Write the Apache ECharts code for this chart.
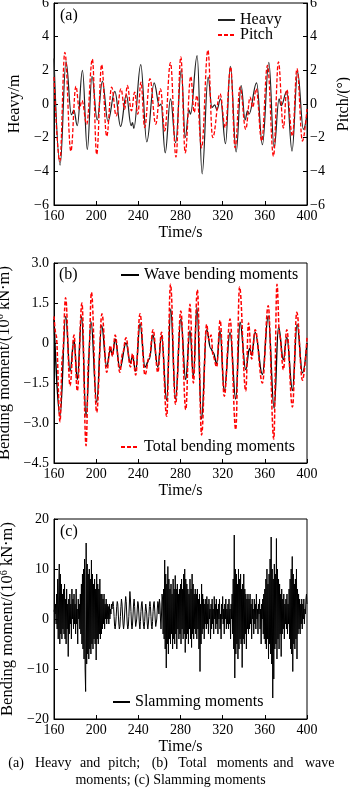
<!DOCTYPE html>
<html><head><meta charset="utf-8">
<script src="https://cdn.jsdelivr.net/npm/echarts@6/dist/echarts.min.js"></script>
<style>html,body{margin:0;padding:0;background:#fff}#c{width:350px;height:792px}</style>
</head><body><div id="c"></div>
<script>
// ---------- DATA ----------
const timeTicks = [160, 200, 240, 280, 320, 360, 400];

// (a) heave [time s, metres] — extrema
const heave = [
[160,2.7],[165.8,-3.63],[171.4,2.52],[176.5,-0.63],[178.8,-0.36],[182.1,-1.29],[187,2.0],[191.6,-2.7],
[196,1.64],[201,-0.95],[205.9,1.35],[211.2,-1.03],[217.7,0.75],[223.2,-1.33],[228.6,0.55],[233.2,-1.29],
[234.5,-1.1],[235.7,-1.45],[242.3,2.34],[248,-2.25],[255,1.25],[260,-0.1],[261.5,0.0],[265.5,-2.9],
[270.5,0.3],[275.4,-2.3],[280.8,2.05],[284.5,-2.0],[288,-0.35],[289.5,-0.6],[295.8,2.87],[300.5,-4.15],
[306.2,1.6],[309.8,-0.2],[312.5,-0.05],[314.5,-0.35],[318,0.3],[322.7,-2.36],[327.3,2.24],[332.8,-2.85],
[337.5,1.1],[341.3,-0.95],[343.5,-0.4],[345,-0.6],[352.2,1.25],[357.7,-2.42],[363.8,2.48],[368.8,-2.6],
[373.5,0.3],[375.5,-0.1],[380.8,0.75],[385.8,-2.8],[391.1,1.9],[396.6,-1.5],[400,-0.6]
];
// (a) pitch [time s, degrees]
const pitch = [
[160,1.6],[165.5,-3.4],[170.3,3.07],[176,-2.8],[180.8,1.05],[184,-0.3],[186.5,0.2],[191,-1.2],
[196.4,2.67],[200.5,-3.0],[205.2,2.34],[210,-1.92],[214.7,1.0],[219,-0.7],[223.5,0.9],[227,-0.3],
[229.5,1.1],[233.5,-0.4],[236.5,0.7],[239.5,-0.6],[242.5,1.3],[246,-1.4],[251,1.5],[256.5,-1.2],
[261,0.9],[265,-1.6],[270.5,2.45],[275.7,-3.15],[280.3,2.8],[284.5,-2.9],[289.7,1.64],[293,-0.5],
[295.5,0.5],[300,-2.6],[306,3.2],[310.5,-2.0],[317.5,0.6],[322.5,-1.4],[327.6,2.2],[331.8,-2.6],
[336.5,1.0],[341.9,-1.5],[346,0.4],[348.5,-0.2],[351.8,0.9],[357,-2.2],[362.5,2.3],[368.2,-3.1],
[372.9,2.5],[377.6,-1.43],[380.8,0.85],[386.2,-1.9],[390.5,2.1],[395.7,-2.2],[400,-0.3]
];
// (b) wave bending moments [time s, 10^6 kN·m]
const waveBM = [
[160,0.9],[165.7,-2.75],[171.1,1.0],[175.2,-1.06],[179,0.1],[182.1,-1.37],[186.2,1.0],[190.4,-2.77],
[195.1,0.8],[200.5,-2.22],[205.2,0.65],[210,-0.88],[213.5,-0.25],[215.5,-0.45],[218,0.15],[222.5,-0.95],
[228.3,0.0],[232.5,-0.75],[234.5,-0.5],[237.5,-1.05],[241.6,0.72],[246.3,-0.9],[250.5,-0.6],[253.8,0.3],
[258.5,-0.9],[262,0.26],[266.9,-2.15],[270.7,1.28],[275.3,-2.1],[280.3,0.9],[284.9,-1.37],[289,0.46],
[292.2,-1.24],[295.6,1.32],[300,-2.85],[304.8,0.5],[308.6,-0.2],[311,-0.35],[314.3,-0.76],[317.5,0.46],
[321.5,-1.8],[327,0.4],[332.4,-2.1],[336.5,0.78],[341.9,-1.0],[345.5,-0.2],[347.5,-0.45],[350.8,0.4],
[357.7,-1.18],[363.2,1.01],[368.8,-2.45],[373,0.6],[377.6,-0.63],[380.8,0.22],[386.2,-1.78],[390.6,0.7],
[395.7,-1.12],[400,0.0]
];
// (b) total bending moments [time s, 10^6 kN·m]
const totalBM = [
[160,1.0],[162,0.3],[165.7,-2.95],[168,-0.5],[171,1.7],[175.2,-1.6],[179,0.3],[182.1,-1.8],
[186.5,1.5],[190.4,-3.85],[193,-0.5],[195.5,1.9],[200.5,-2.6],[205.5,1.1],[210,-1.1],[213.5,-0.1],
[215.5,-0.5],[218,0.3],[222.5,-1.1],[225,-0.4],[228.3,0.2],[232.5,-0.9],[234.5,-0.4],[237.5,-1.2],
[241.6,1.1],[246.3,-1.2],[250.5,-0.5],[254,0.5],[258.5,-1.1],[262,0.4],[266.9,-2.75],[270.5,2.2],
[275.3,-2.3],[280.3,1.2],[285,-2.5],[289,1.45],[292.2,-1.5],[296,2.0],[300,-3.45],[304.8,0.7],
[307,0.1],[309,0.3],[311,-0.5],[314.3,-0.9],[317.6,0.85],[321.5,-2.0],[327,0.9],[332.4,-3.25],
[336,2.1],[341.9,-1.8],[344.5,0.75],[347.5,-0.6],[350.8,0.5],[357.7,-1.5],[363.2,1.4],[368.5,-3.6],
[371.5,2.2],[374,0.3],[377.6,-1.0],[380.8,0.5],[386.2,-2.4],[390.3,1.15],[395.7,-1.4],[400,0.2]
];
// (c) slamming moments, sampled every 0.5 s from 160 s [10^6 kN·m]
const slamStart = 160, slamStep = 0.5;
const slamming = [
1.5,2,1,3,-1,5,-2,8,-4,6,
11,-5,9,-3,7,-4,5,-2,6,-3,
7,-4,4,-5,6,-2,3,-7.5,4,-3,
5,-1,3,-4,6,0,4,-2,5,-1,
3,-3,6,-1,2,-5,4,0,3,-2,
5,-3,7,-5,9,-6,10,-8,12,-10,
-14.5,15.2,-9,11,-7,9,-8,10,-6,8,
-7,11.8,-5,9,-6,7,-4,8,-5,6,
-8.2,9,-4,7,-5,6,-3,8,-4,5,
-3,5,-2,4,-1,5,-2,3,0,4,
-1,3,0,2.5,-1,3,0,2,1,3,
2,3,3.5,2.5,0.5,-1.5,-2,-1,0.5,2.5,
3.5,3,1,-1,-2,-1.5,0.5,2.5,4,3,
1,-1,-2,-1,1,3,4.5,3.5,1,-1,
-2,-1.5,0.5,3,5.5,4,1.5,-1,-2,-1,
1,3,4,2.5,0,-1.5,-1.5,0,2,3.5,
3,1,-1,-2,-0.5,1.5,3,3.5,2,0,
-1.5,-2,-0.5,1.5,3,3,1,-1,-2,-1,
0.5,2.5,3.5,2.5,0.5,-1.5,-2,-0.5,1.5,3,
3.5,2,0,-1.5,-1.5,0,2,3.5,3,1,
4,3,0,-2,1,5,4,-3,6,-4,
11.8,-6,9,-9.8,7,-5,10.5,-7,8,-4,
6,-5,7,-3,5,-6,8,-4,6,-5,
8.7,-3,6,-6,7,-2,5,-4,6,-3,
7,-5,8,-2,6,-4,9,-3,10,-6.7,
8,-4,7,-3,6,-5,5,-2,8,-4,
6,-5.7,9,-3,7,-4,5,-2,6,-3,
5,-4,6,-2,4,-6,5,-10.5,3,-5,
7,-3,5,-2,4,-4,3,-1,4,-2,
4.5,-1,3,-3,4,0,2,-4,3,-2,
4,-1,2,-3,4.5,0,3,-2,4,-1,
2,-3,3,0,4,-2,1,-4,3,0,
4.5,-1,2,-3,3,0,4,-2,2,-1,
3,-2,4,-1,2,-4,3,0,5,-3,
8,-6,16.8,-11.8,10,-7,9,-5,7,-8,
10,-6,8,-4,9,-5,6,-9.7,7,-4,
9,-5,6,-3,5,-6,4,-2,5,-3,
4,-2,5,-1,3,-4,4,0,2,-3,
4,-1,3,-2,5,0,2,-3,3,1,
4,-2,2,-5,3,0,4,-3,5,-4,
6,-5,8,-6,10,-4,7,-8,9,-5,
12,-7,16.4,-9,10,-15.8,8,-12,11,-6,
9,-5,16.1,-8,10,-4,8,-6,7,-3,
5,-7.5,6,-3,4,-2,5,-4,3,-1,
4,-2,5,-3,3,-1,6,-4,8,-6,
10,-7,12.5,-10.5,9,-5,7,-6,8,-4,
10,-8,6,-3,5,-2,4,-3,3,-1,
4,-2,3,0,4,-1,2,1,4,5,
3
];
const captionLine1 = ['(a)','Heavy','and','pitch;','(b)','Total','moments','and','wave'];
const captionLine2 = 'moments; (c) Slamming moments';

// ---------- CHART ----------
const FONT = '"Liberation Serif", "Times New Roman", serif';
const slamData = slamming.map((v, i) => [slamStart + i * slamStep, v]);
const fmtMinus = s => String(s).replace('-', '\u2212');

function xAxis(gi) {
  return {
    type: 'value', gridIndex: gi, min: timeTicks[0], max: timeTicks[timeTicks.length - 1], interval: 40,
    name: 'Time/s', nameLocation: 'middle', nameGap: 20,
    nameTextStyle: { fontSize: 16, color: '#000', fontFamily: FONT },
    axisLine: { show: true, onZero: false, lineStyle: { color: '#000', width: 1 } },
    axisTick: { show: true, inside: true, length: 4, lineStyle: { color: '#000' } },
    axisLabel: { fontSize: 14, color: '#000', margin: 4, fontFamily: FONT },
    splitLine: { show: false }
  };
}
function yAxis(gi, min, max, interval, name, nameGap, pos, fmt, nameSize) {
  return {
    type: 'value', gridIndex: gi, min, max, interval, position: pos || 'left',
    name, nameLocation: 'middle', nameGap, nameRotate: 90,
    nameTextStyle: { fontSize: nameSize, color: '#000', fontFamily: FONT,
      rich: { sup: { fontSize: 10, fontFamily: FONT, color: '#000', verticalAlign: 'top', padding: [0, 0, 7, 0] } } },
    axisLine: { show: true, onZero: false, lineStyle: { color: '#000', width: 1 } },
    axisTick: { show: true, inside: true, length: 4, lineStyle: { color: '#000' } },
    axisLabel: { fontSize: 14, color: '#000', margin: pos === 'right' ? 3 : 5, fontFamily: FONT, formatter: fmt },
    splitLine: { show: false }
  };
}
const intFmt = v => fmtMinus(v);
const oneDec = v => fmtMinus(v === 0 ? '0' : v.toFixed(1));
const bmName = 'Bending moment/(10{sup|6} kN·m)';

const legendBase = { orient: 'horizontal', padding: 0, selectedMode: false, itemHeight: 10,
  itemStyle: { opacity: 0 },
  textStyle: { fontSize: 16, color: '#000', fontFamily: FONT } };

const gridBase = { left: 54, right: 43, show: true, borderColor: '#000', borderWidth: 1,
  backgroundColor: 'transparent', containLabel: false, outerBoundsMode: 'none' };

const option = {
  animation: false,
  backgroundColor: '#fff',
  textStyle: { fontFamily: FONT },
  grid: [
    Object.assign({}, gridBase, { top: 3, height: 202 }),
    Object.assign({}, gridBase, { top: 263, height: 200 }),
    Object.assign({}, gridBase, { top: 519, height: 200 })
  ],
  xAxis: [xAxis(0), xAxis(1), xAxis(2)],
  yAxis: [
    yAxis(0, -6, 6, 2, 'Heavy/m', 25, 'left', intFmt, 16),
    yAxis(0, -6, 6, 2, 'Pitch/(°)', 27, 'right', intFmt, 16),
    yAxis(1, -4.5, 3, 1.5, bmName, 35, 'left', oneDec, 16.5),
    yAxis(2, -20, 20, 10, bmName, 35, 'left', intFmt, 16.5)
  ],
  legend: [
    Object.assign({}, legendBase, { data: ['Heavy'], left: 217, top: 12, itemWidth: 17 }),
    Object.assign({}, legendBase, { data: ['Pitch'], left: 217, top: 27, itemWidth: 17 }),
    Object.assign({}, legendBase, { data: ['Wave bending moments'], left: 120, top: 267, itemWidth: 18 }),
    Object.assign({}, legendBase, { data: ['Total bending moments'], left: 120, top: 439, itemWidth: 18 }),
    Object.assign({}, legendBase, { data: ['Slamming moments'], left: 112, top: 694, itemWidth: 17 })
  ],
  series: [
    { type: 'line', name: 'Heavy', xAxisIndex: 0, yAxisIndex: 0, data: heave, smooth: 0.4, smoothMonotone: 'x',
      symbol: 'none', lineStyle: { color: '#222', width: 1.2 }, itemStyle: { color: '#222' } },
    { type: 'line', name: 'Pitch', xAxisIndex: 0, yAxisIndex: 1, data: pitch, smooth: 0.4, smoothMonotone: 'x',
      symbol: 'none', lineStyle: { color: '#ff0000', width: 1.3, type: [4, 2] }, itemStyle: { color: '#ff0000' } },
    { type: 'line', name: 'Wave bending moments', xAxisIndex: 1, yAxisIndex: 2, data: waveBM, smooth: 0.4, smoothMonotone: 'x',
      symbol: 'none', lineStyle: { color: '#000', width: 1.4 }, itemStyle: { color: '#000' } },
    { type: 'line', name: 'Total bending moments', xAxisIndex: 1, yAxisIndex: 2, data: totalBM, smooth: 0.4, smoothMonotone: 'x',
      symbol: 'none', lineStyle: { color: '#ff0000', width: 1.5, type: [4, 2] }, itemStyle: { color: '#ff0000' } },
    { type: 'line', name: 'Slamming moments', xAxisIndex: 2, yAxisIndex: 3, data: slamData,
      symbol: 'none', lineStyle: { color: '#000', width: 1 }, itemStyle: { color: '#000' } }
  ],
  graphic: (function () {
    const g = [];
    const panel = (t, x, y) => g.push({ type: 'text', x, y, style: { text: t, font: '16px ' + FONT, fill: '#000', verticalAlign: 'middle' } });
    panel('(a)', 60, 16); panel('(b)', 59, 275); panel('(c)', 60, 532);
    const xs = [8.3, 35, 80, 108.3, 151.7, 178.3, 216.7, 273.3, 305];
    captionLine1.forEach((w, i) => g.push({ type: 'text', x: xs[i], y: 763,
      style: { text: w, font: '14px ' + FONT, fill: '#000', verticalAlign: 'middle' } }));
    g.push({ type: 'text', x: 170.5, y: 780,
      style: { text: captionLine2, font: '14px ' + FONT, fill: '#000', align: 'center', verticalAlign: 'middle' } });
    return g;
  })()
};
const chart = echarts.init(document.getElementById('c'), null, { renderer: 'canvas' });
chart.setOption(option);
</script></body></html>
